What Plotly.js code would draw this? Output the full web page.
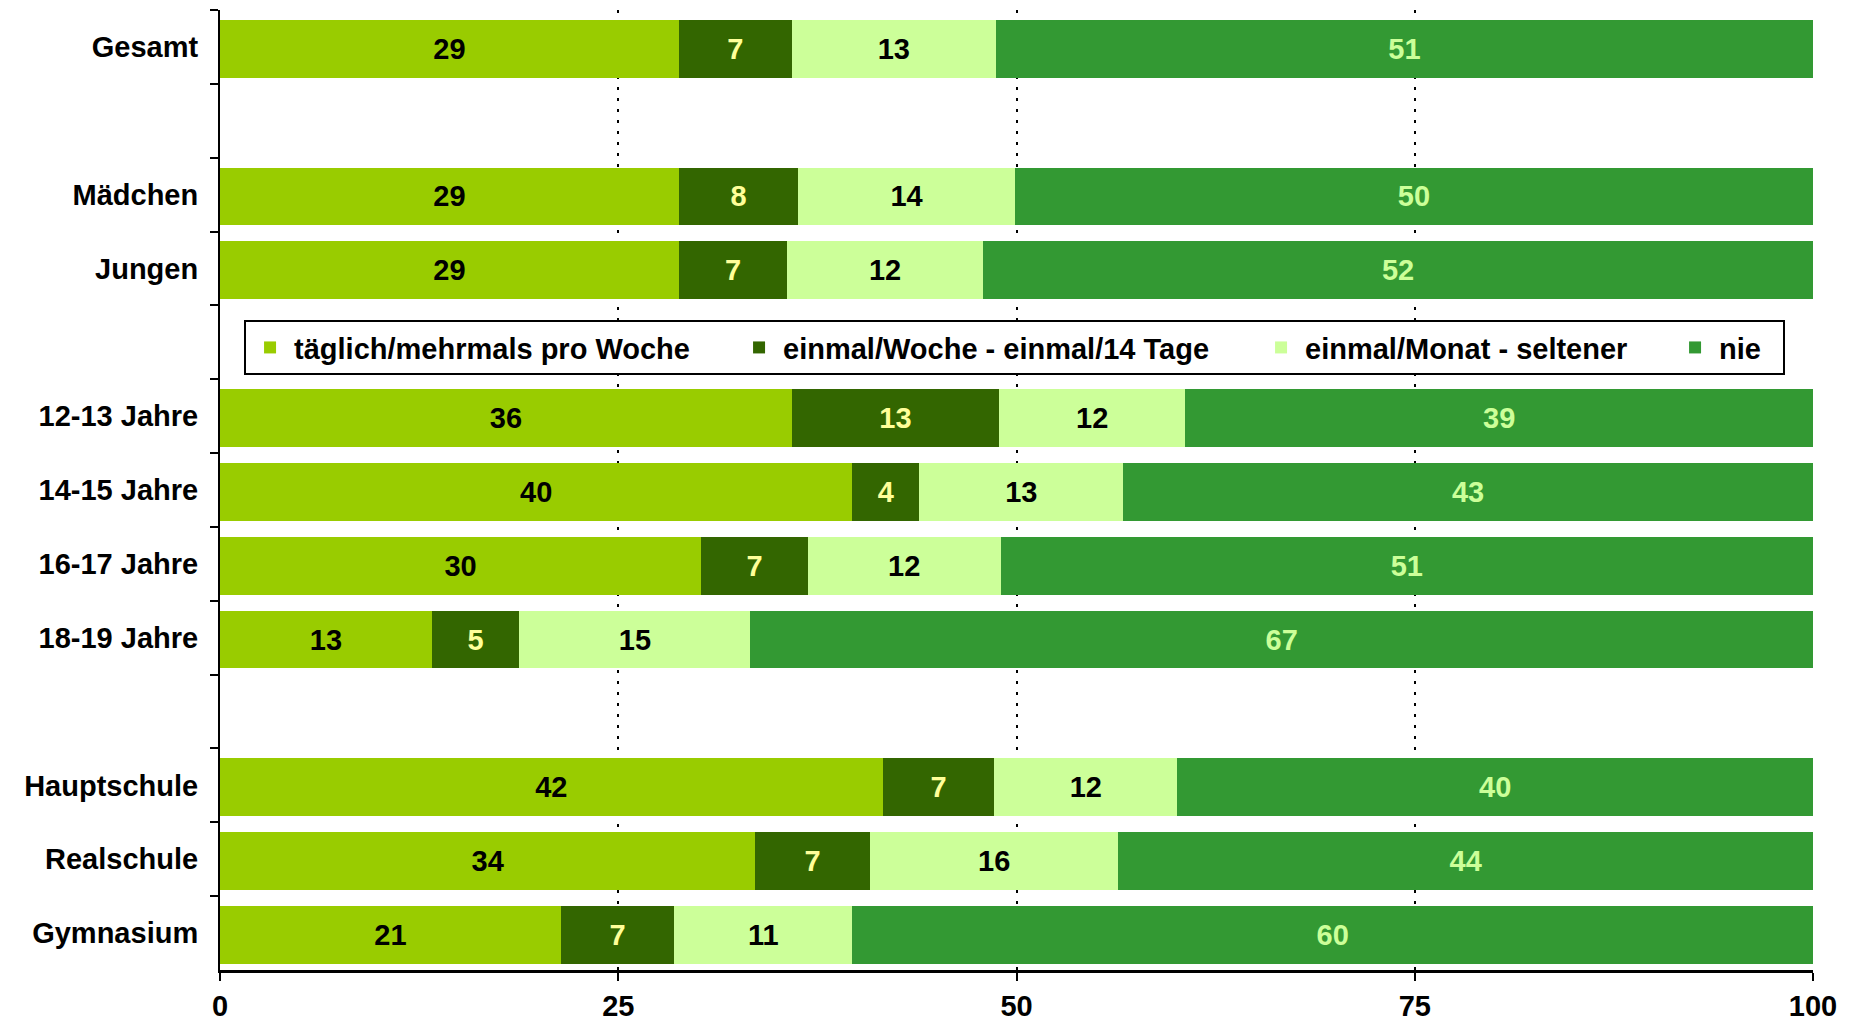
<!DOCTYPE html>
<html>
<head>
<meta charset="utf-8">
<script src="https://cdn.plot.ly/plotly-3.0.1.min.js"></script>
<style>html,body{margin:0;padding:0;background:#fff;}#chart{width:1852px;height:1023px;}</style>
</head>
<body>
<div id="chart"></div>
<script>
// categories (blank entries are the gaps between groups)
const categories = ["Gesamt", " ", "Mädchen", "Jungen", "  ", "12-13 Jahre", "14-15 Jahre", "16-17 Jahre", "18-19 Jahre", "   ", "Hauptschule", "Realschule", "Gymnasium"];
const seriesNames = ["täglich/mehrmals pro Woche", "einmal/Woche - einmal/14 Tage", "einmal/Monat - seltener", "nie"];
// bar lengths
const taeglich = [28.8, null, 28.8, 28.8, null, 35.9, 39.7, 30.2, 13.3, null, 41.6, 33.6, 21.4];
const woche    = [7.1, null, 7.5, 6.8, null, 13.0, 4.2, 6.7, 5.5, null, 7.0, 7.2, 7.1];
const monat    = [12.8, null, 13.6, 12.3, null, 11.7, 12.8, 12.1, 14.5, null, 11.5, 15.6, 11.2];
const nie      = [51.3, null, 50.1, 52.1, null, 39.4, 43.3, 51.0, 66.7, null, 39.9, 43.6, 60.3];
// printed labels
const taeglichLbl = ["29", "", "29", "29", "", "36", "40", "30", "13", "", "42", "34", "21"];
const wocheLbl    = ["7", "", "8", "7", "", "13", "4", "7", "5", "", "7", "7", "7"];
const monatLbl    = ["13", "", "14", "12", "", "12", "13", "12", "15", "", "12", "16", "11"];
const nieLbl      = ["51", "", "50", "52", "", "39", "43", "51", "67", "", "40", "44", "60"];
const xTicks = [0, 25, 50, 75, 100];

const colors = ["#99CC00", "#336600", "#CCFF99", "#339933"];
const labelColors = ["#000000", "#FFFF99", "#000000", "#CCFF99"];
const legendWidths = [436, 469, 361, 59];
const FONT = "'Liberation Sans', Arial, Helvetica, sans-serif";

const vals = [taeglich, woche, monat, nie];
const lbls = [taeglichLbl, wocheLbl, monatLbl, nieLbl];

const data = vals.map((v, i) => ({
  type: "bar",
  orientation: "h",
  name: seriesNames[i],
  y: categories,
  x: v,
  width: 0.784,
  offset: -0.367,
  text: lbls[i],
  texttemplate: "%{text}",
  textposition: "inside",
  insidetextanchor: "middle",
  constraintext: "none",
  textfont: {family: FONT, size: 29, weight: 700, color: labelColors[i]},
  marker: {color: colors[i], line: {width: 0}},
  legendwidth: legendWidths[i],
  hoverinfo: "skip"
}));

const layout = {
  width: 1852,
  height: 1023,
  margin: {l: 220, r: 39, t: 10, b: 53},
  paper_bgcolor: "#ffffff",
  plot_bgcolor: "#ffffff",
  barmode: "stack",
  showlegend: true,
  font: {family: FONT, size: 29, weight: 700, color: "#000"},
  legend: {
    orientation: "h",
    x: 0.0151, xanchor: "left",
    y: 0.677, yanchor: "top",
    bgcolor: "#ffffff",
    bordercolor: "#000000",
    borderwidth: 2,
    traceorder: "normal",
    font: {family: FONT, size: 29, weight: 700, color: "#000"},
    itemwidth: 38
  },
  xaxis: {
    range: [0, 100],
    tickvals: xTicks,
    ticktext: xTicks.map(String),
    showgrid: true,
    gridcolor: "#000000",
    gridwidth: 2,
    griddash: "3px,8px",
    zeroline: false,
    showline: true,
    linecolor: "#000000",
    linewidth: 3,
    ticks: "outside",
    ticklen: 8,
    tickwidth: 2,
    tickcolor: "#000",
    tickfont: {family: FONT, size: 29, weight: 700, color: "#000"},
    fixedrange: true
  },
  yaxis: {
    type: "category",
    categoryorder: "array",
    categoryarray: categories,
    range: [12.5, -0.5],
    tickson: "boundaries",
    ticks: "outside",
    ticklen: 8,
    tickwidth: 2,
    tickcolor: "#000",
    showgrid: false,
    zeroline: false,
    showline: true,
    linecolor: "#000000",
    linewidth: 2,
    ticklabelstandoff: 14,
    tickfont: {family: FONT, size: 29, weight: 700, color: "#000"},
    fixedrange: true
  }
};

Plotly.newPlot("chart", data, layout, {staticPlot: true, displayModeBar: false});
</script>
</body>
</html>
